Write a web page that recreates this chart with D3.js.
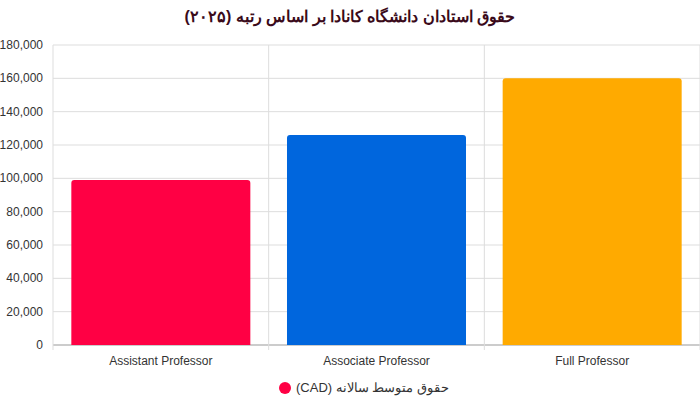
<!DOCTYPE html>
<html><head><meta charset="utf-8">
<script src="https://cdn.jsdelivr.net/npm/d3@7"></script>
<style>body{margin:0;background:#fff}text{font-family:"Liberation Sans",Arial,sans-serif}</style>
</head><body><svg id="c" width="700" height="404"></svg>
<script>
const categories=["Assistant Professor","Associate Professor","Full Professor"];
const values=[99000,126000,160000];
const colors=["#ff0044","#0066dd","#ffaa00"];
const yTicks=[0,20000,40000,60000,80000,100000,120000,140000,160000,180000];
const title="حقوق استادان دانشگاه کانادا بر اساس رتبه (۲۰۲۵)";
const legendLabel="حقوق متوسط سالانه (CAD)";

const svg=d3.select("#c");
const L=53,R=700,T=45,B=345;
const x=d3.scaleBand().domain(categories).range([L,R]).paddingInner(0.17).paddingOuter(0.085);
const y=d3.scaleLinear().domain([0,180000]).range([B,T]);
const g=svg.append("g");
g.selectAll(".h").data(yTicks).join("line").attr("x1",L).attr("x2",R).attr("y1",d=>y(d)).attr("y2",d=>y(d)).attr("stroke",d=>d===0?"#999":"#ddd");
const step=(R-L)/3;
[0,1,2,3].forEach(i=>g.append("line").attr("x1",L+i*step).attr("x2",L+i*step).attr("y1",T).attr("y2",B+5).attr("stroke","#ddd"));
g.selectAll(".yl").data(yTicks).join("text").attr("x",L-10).attr("y",d=>y(d)+4).attr("text-anchor","end").attr("font-size",12).attr("fill","#333").text(d=>d3.format(",")(d));
g.selectAll(".b").data(values).join("path").attr("fill",(d,i)=>colors[i]).attr("d",(d,i)=>{
 const x0=x(categories[i]),w=x.bandwidth(),y0=y(d),r=3;
 return `M${x0},${B}V${y0+r}Q${x0},${y0} ${x0+r},${y0}H${x0+w-r}Q${x0+w},${y0} ${x0+w},${y0+r}V${B}Z`;});
g.selectAll(".xl").data(categories).join("text").attr("x",d=>x(d)+x.bandwidth()/2).attr("y",365).attr("text-anchor","middle").attr("font-size",12).attr("fill","#333").text(d=>d);
svg.append("text").attr("x",350).attr("y",22).attr("text-anchor","middle").attr("font-size",16).attr("font-weight","bold").attr("fill","#3a0a1a").attr("font-family","DejaVu Sans").text(title);
svg.append("circle").attr("cx",285).attr("cy",388).attr("r",6).attr("fill",colors[0]);
svg.append("text").attr("x",296).attr("y",392).attr("font-size",13).attr("fill","#333").attr("direction","rtl").attr("text-anchor","end").text(legendLabel);
</script></body></html>
